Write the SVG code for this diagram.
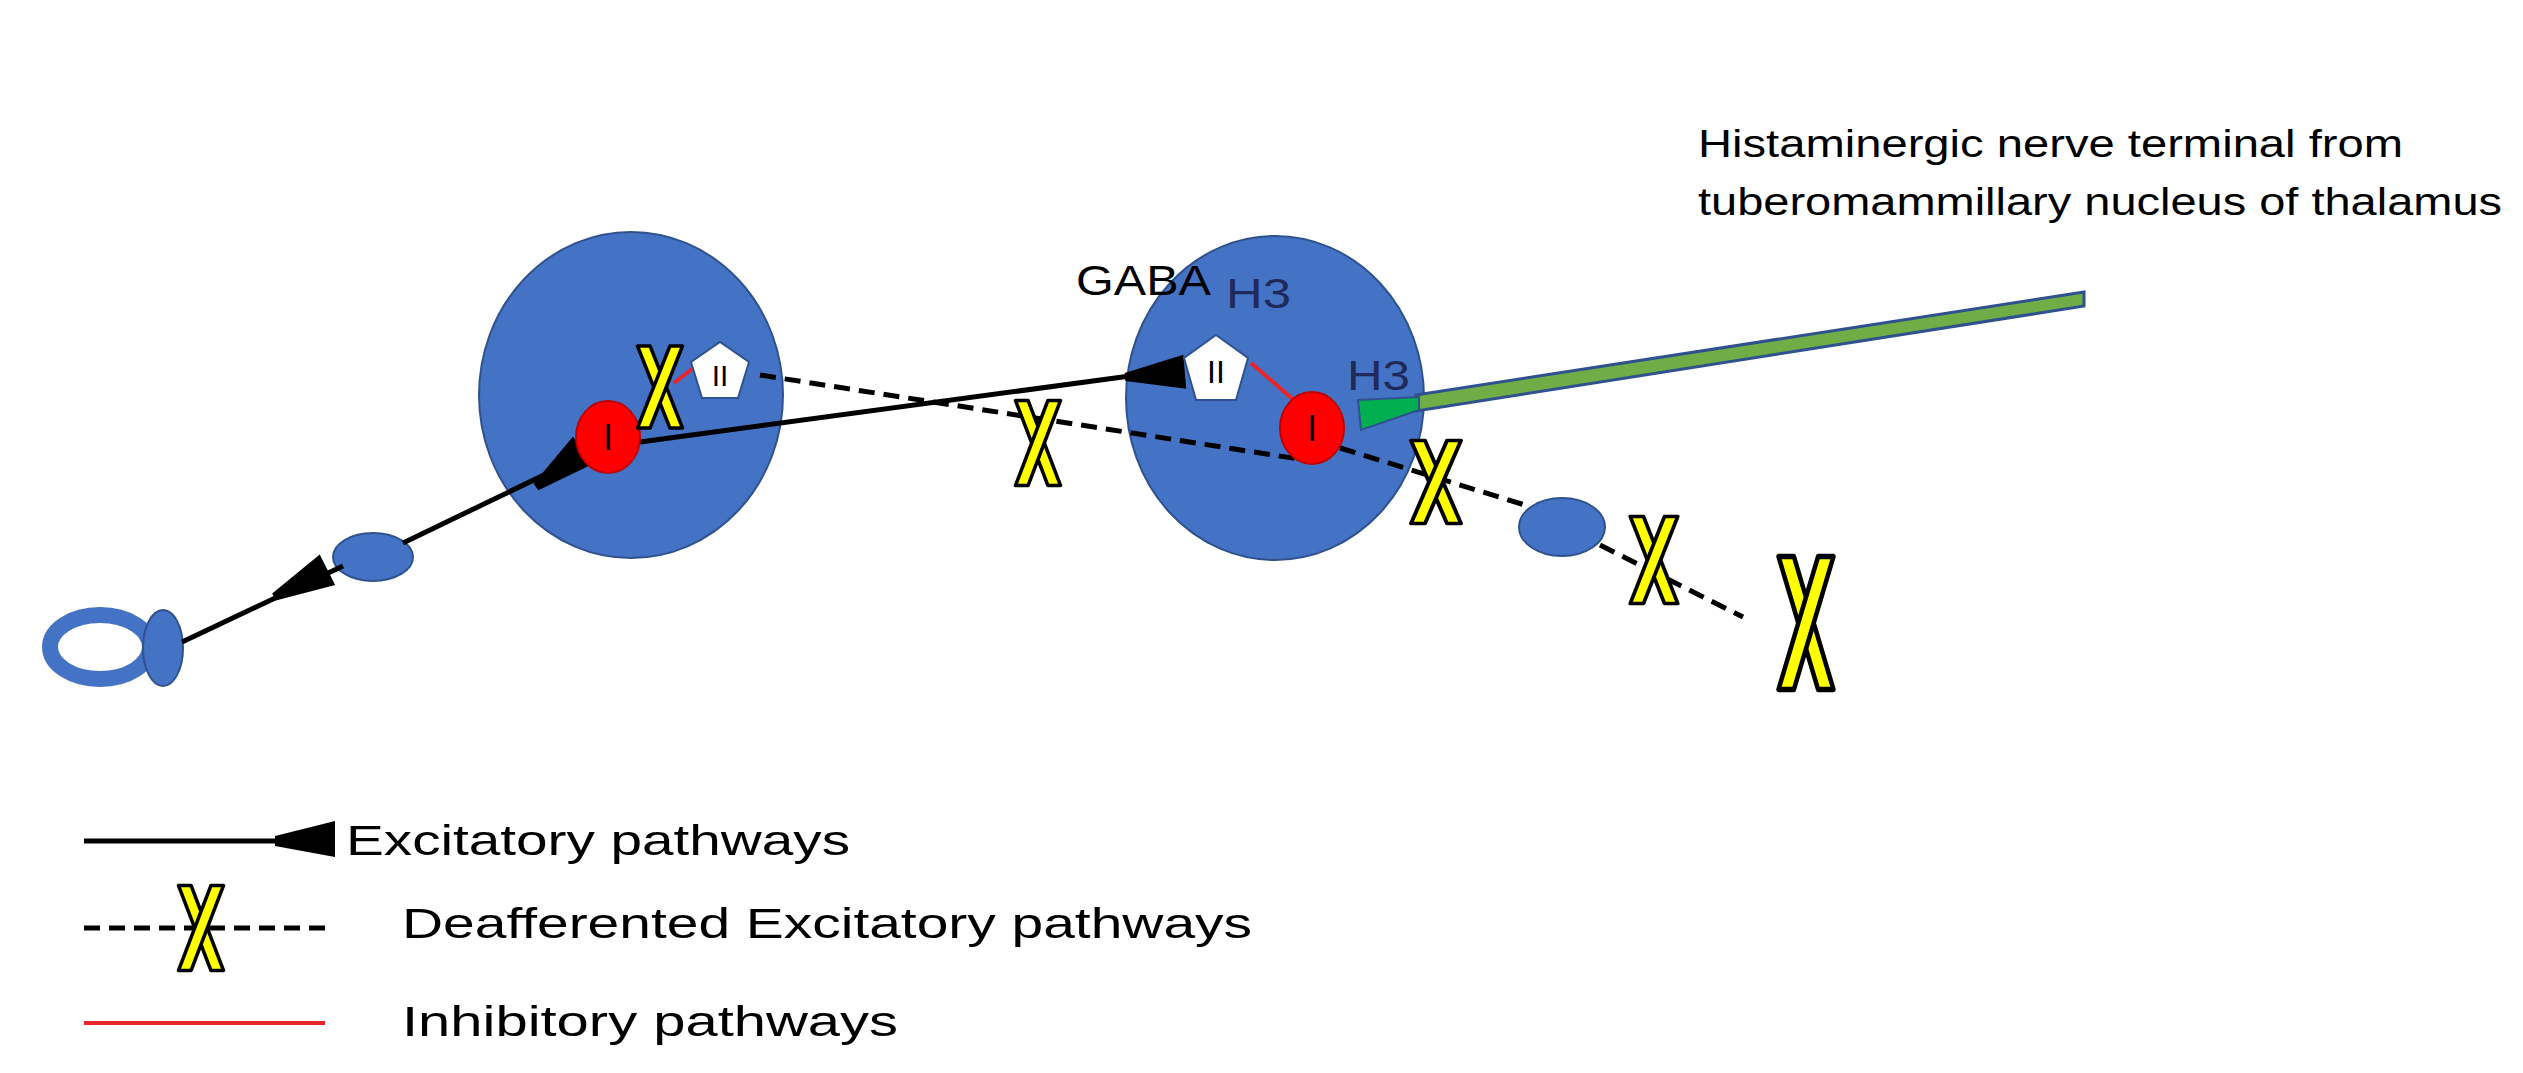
<svg xmlns="http://www.w3.org/2000/svg" xmlns:xlink="http://www.w3.org/1999/xlink" width="2523" height="1073" viewBox="0 0 2523 1073">
<style>
.cell{fill:#4472c4;stroke:#2f528f;stroke-width:2}
.red{fill:#ff0000;stroke:#c00000;stroke-width:2}
.pent{fill:#ffffff;stroke:#2f528f;stroke-width:2}
.t{font-family:"Liberation Sans",Arial,sans-serif;fill:#000}
.solid{stroke:#000;stroke-width:5;fill:none}
.dash{stroke:#000;stroke-width:5;fill:none;stroke-dasharray:16 9}
.inh{stroke:#e8262a;stroke-width:4;fill:none}
.xb{fill:#ffff00;stroke:#000;stroke-width:4;stroke-linejoin:round}
</style>
<defs>
<g id="xm"><polygon class="xb" points="-25,-50 -11,-50 25,50 11,50"/><polygon class="xb" points="25,-50 11,-50 -25,50 -11,50"/></g>
<polygon id="wedge" points="0,-4 60,-17 60,17 0,4" fill="#000"/>
</defs>
<rect width="2523" height="1073" fill="#fff"/>
<g id="cell1"><ellipse class="cell" cx="631" cy="395" rx="152" ry="163"/></g>
<g id="cell2"><ellipse class="cell" cx="1275" cy="398" rx="149" ry="162"/></g>
<g id="loopL"><ellipse cx="100" cy="647" rx="50" ry="32" fill="none" stroke="#4472c4" stroke-width="16"/><ellipse class="cell" cx="163" cy="648" rx="20" ry="38"/></g>
<g id="bulbL"><ellipse class="cell" cx="373" cy="557" rx="40" ry="24"/></g>
<g id="bulbR"><ellipse class="cell" cx="1562" cy="527" rx="43" ry="29"/></g>
<g id="green"><polygon points="1416,395 2084,292 2084,306 1416,411" fill="#70ad47" stroke="#2f528f" stroke-width="3"/><polygon points="1358,400 1419,397 1419,410 1361,430" fill="#00b050" stroke="#2f528f" stroke-width="2"/></g>
<g id="connectors">
<polyline class="solid" points="182,642 343,566"/>
<polyline class="solid" points="403,543 600,448"/>
<use xlink:href="#wedge" transform="translate(274,597) rotate(-27)"/>
<use xlink:href="#wedge" transform="translate(536,487) rotate(-38)"/>
<line class="solid" x1="640" y1="442" x2="1130" y2="376"/>
<use xlink:href="#wedge" transform="translate(1125,377) rotate(-5)"/>
<polyline class="dash" points="760,375 1305,460"/>
<polyline class="dash" points="1340,448 1525,505"/>
<polyline class="dash" points="1600,545 1743,617"/>
<line class="inh" x1="674" y1="383" x2="697" y2="365"/>
<line class="inh" x1="1251" y1="363" x2="1296" y2="402"/>
</g>
<g id="pent1"><polygon class="pent" points="720,342 749,362 738,398 702,398 691,362"/><text class="t" x="720" y="386" font-size="30" text-anchor="middle">II</text></g>
<g id="pent2"><polygon class="pent" points="1216,335 1248,358 1236,400 1196,400 1184,358"/><text class="t" x="1216" y="383" font-size="32" text-anchor="middle">II</text></g>
<g id="I1"><ellipse class="red" cx="608" cy="437" rx="32" ry="36"/><text class="t" x="608" y="450" font-size="36" text-anchor="middle">I</text></g>
<g id="I2"><ellipse class="red" cx="1312" cy="428" rx="32" ry="36"/><text class="t" x="1312" y="441" font-size="36" text-anchor="middle">I</text></g>
<g id="xs">
<use xlink:href="#xm" transform="translate(660,387) scale(0.9,0.82)"/>
<use xlink:href="#xm" transform="translate(1038,443) scale(0.9,0.85)"/>
<use xlink:href="#xm" transform="translate(1436,482) scale(1,0.83)"/>
<use xlink:href="#xm" transform="translate(1654,560) scale(0.95,0.87)"/>
<use xlink:href="#xm" transform="translate(1806,623) scale(1.1,1.33)"/>
</g>
<g id="labels">
<text class="t" x="1076" y="295" font-size="42" textLength="135" lengthAdjust="spacingAndGlyphs">GABA</text>
<text class="t" x="1226" y="308" font-size="42" fill="#1f2a5a" style="fill:#1f2a5a" textLength="65" lengthAdjust="spacingAndGlyphs">H3</text>
<text class="t" x="1347" y="390" font-size="42" style="fill:#1f2a5a" textLength="63" lengthAdjust="spacingAndGlyphs">H3</text>
<text class="t" x="1698" y="157" font-size="38" textLength="705" lengthAdjust="spacingAndGlyphs">Histaminergic nerve terminal from</text>
<text class="t" x="1698" y="215" font-size="38" textLength="804" lengthAdjust="spacingAndGlyphs">tuberomammillary nucleus of thalamus</text>
</g>
<g id="legend">
<line class="solid" x1="84" y1="841" x2="280" y2="841"/>
<polygon points="275,836 335,821 335,857 275,846" fill="#000"/>
<text class="t" x="346" y="855" font-size="42" textLength="504" lengthAdjust="spacingAndGlyphs">Excitatory pathways</text>
<line class="dash" x1="84" y1="928" x2="325" y2="928"/>
<use xlink:href="#xm" transform="translate(201,928) scale(0.9,0.85)"/>
<text class="t" x="402" y="938" font-size="42" textLength="850" lengthAdjust="spacingAndGlyphs">Deafferented Excitatory pathways</text>
<line class="inh" x1="84" y1="1023" x2="325" y2="1023"/>
<text class="t" x="402" y="1036" font-size="42" textLength="496" lengthAdjust="spacingAndGlyphs">Inhibitory pathways</text>
</g>
</svg>
